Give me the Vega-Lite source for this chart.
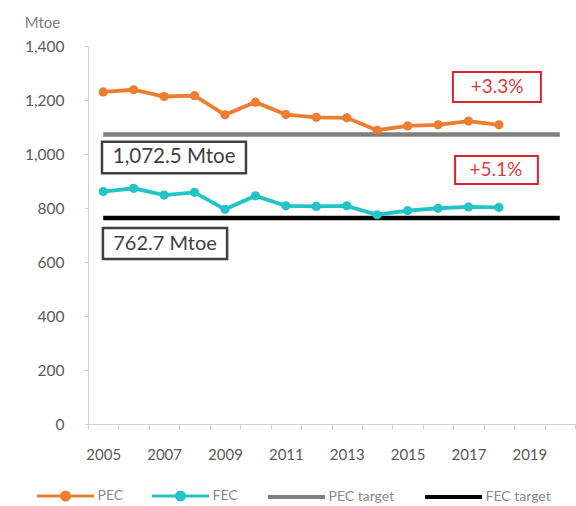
{
  "$schema": "https://vega.github.io/schema/vega-lite/v6.json",
  "autosize": {"type": "none"},
  "padding": {"left": 88, "top": 46, "right": 1, "bottom": 82},
  "width": 487,
  "height": 378,
  "background": "white",
  "config": {
    "view": {"stroke": null},
    "font": "Lato",
    "axis": {"grid": false, "labelFont": "Lato", "titleFont": "Lato"}
  },
  "resolve": {"axis": {"x": "independent"}},
  "data": {
    "values": [
      {"year": 2005, "series": "PEC", "value": 1230},
      {"year": 2006, "series": "PEC", "value": 1238},
      {"year": 2007, "series": "PEC", "value": 1213},
      {"year": 2008, "series": "PEC", "value": 1216},
      {"year": 2009, "series": "PEC", "value": 1145},
      {"year": 2010, "series": "PEC", "value": 1192},
      {"year": 2011, "series": "PEC", "value": 1146},
      {"year": 2012, "series": "PEC", "value": 1136},
      {"year": 2013, "series": "PEC", "value": 1134},
      {"year": 2014, "series": "PEC", "value": 1088},
      {"year": 2015, "series": "PEC", "value": 1104},
      {"year": 2016, "series": "PEC", "value": 1108},
      {"year": 2017, "series": "PEC", "value": 1122},
      {"year": 2018, "series": "PEC", "value": 1108},
      {"year": 2005, "series": "FEC", "value": 861},
      {"year": 2006, "series": "FEC", "value": 873},
      {"year": 2007, "series": "FEC", "value": 848},
      {"year": 2008, "series": "FEC", "value": 858},
      {"year": 2009, "series": "FEC", "value": 795},
      {"year": 2010, "series": "FEC", "value": 845},
      {"year": 2011, "series": "FEC", "value": 808},
      {"year": 2012, "series": "FEC", "value": 806},
      {"year": 2013, "series": "FEC", "value": 808},
      {"year": 2014, "series": "FEC", "value": 775},
      {"year": 2015, "series": "FEC", "value": 790},
      {"year": 2016, "series": "FEC", "value": 799},
      {"year": 2017, "series": "FEC", "value": 804},
      {"year": 2018, "series": "FEC", "value": 802},
      {"year": 2005, "series": "PEC target", "value": 1072.5},
      {"year": 2020, "series": "PEC target", "value": 1072.5},
      {"year": 2005, "series": "FEC target", "value": 762.7},
      {"year": 2020, "series": "FEC target", "value": 762.7}
    ]
  },
  "layer": [
    {
      "transform": [{"filter": "indexof(['PEC target','FEC target'], datum.series) >= 0"}],
      "mark": {"type": "line", "strokeWidth": 4.5},
      "encoding": {
        "x": {
          "field": "year", "type": "quantitative",
          "scale": {"domain": [2004.5, 2020.5], "nice": false, "zero": false},
          "axis": {
            "orient": "bottom",
            "title": null,
            "values": [2004.5, 2005.5, 2006.5, 2007.5, 2008.5, 2009.5, 2010.5, 2011.5, 2012.5, 2013.5, 2014.5, 2015.5, 2016.5, 2017.5, 2018.5, 2019.5, 2020.5],
            "labels": false,
            "tickSize": 5,
            "tickColor": "#D0D0D0",
            "domainColor": "#D0D0D0"
          }
        },
        "y": {
          "field": "value", "type": "quantitative",
          "scale": {"domain": [0, 1400], "nice": false},
          "axis": {
            "values": [0, 200, 400, 600, 800, 1000, 1200, 1400],
            "format": ",d",
            "title": "Mtoe",
            "titleAngle": 0,
            "titleX": -46,
            "titleY": -24,
            "titleAlign": "center",
            "titleBaseline": "middle",
            "titleFontWeight": "normal",
            "titleFontSize": 15,
            "titleColor": "#7F7F7F",
            "labelFontSize": 15.5,
            "labelColor": "#595959",
            "labelPadding": 20,
            "tickSize": 4,
            "tickColor": "#D0D0D0",
            "domainColor": "#D0D0D0"
          }
        },
        "color": {
          "field": "series", "type": "nominal",
          "scale": {"domain": ["PEC", "FEC", "PEC target", "FEC target"], "range": ["#ED7D31", "#22C4C6", "#7F7F7F", "#000000"]},
          "legend": {
            "title": null,
            "orient": "none",
            "direction": "horizontal",
            "legendX": -53,
            "legendY": 443,
            "symbolSize": 100,
            "symbolOffset": 23.5,
            "labelOffset": 25,
            "columnPadding": 22,
            "labelFontSize": 14,
            "labelColor": "#8A8A8A",
            "encode": {
              "symbols": {
                "update": {
                  "shape": {"signal": "indexof(['PEC','FEC'], datum.value) >= 0 ? 'M-5.7,0H5.7M-0.8,0A0.8,0.8,0,1,1,0.8,0A0.8,0.8,0,1,1,-0.8,0Z' : 'M-5.7,0H5.7'"},
                  "strokeWidth": {"signal": "indexof(['PEC','FEC'], datum.value) >= 0 ? 3 : 4"},
                  "fill": {"scale": "color", "field": "value"},
                  "fillOpacity": {"value": 1}
                }
              }
            }
          }
        }
      }
    },
    {
      "data": {"values": [{}]},
      "mark": {"type": "rect", "fill": "white", "stroke": "#404040", "strokeWidth": 2.5},
      "encoding": {
        "x": {"datum": 2004.96, "type": "quantitative", "axis": null},
        "x2": {"datum": 2009.69},
        "y": {"datum": 1045.6, "type": "quantitative"},
        "y2": {"datum": 928.5}
      }
    },
    {
      "data": {"values": [{}]},
      "mark": {"type": "rect", "fill": "white", "stroke": "#404040", "strokeWidth": 2.5},
      "encoding": {
        "x": {"datum": 2004.99, "type": "quantitative", "axis": null},
        "x2": {"datum": 2009.07},
        "y": {"datum": 726, "type": "quantitative"},
        "y2": {"datum": 611}
      }
    },
    {
      "data": {"values": [{}]},
      "mark": {"type": "rect", "fill": "white", "stroke": "#D9262E", "strokeWidth": 2},
      "encoding": {
        "x": {"datum": 2016.49, "type": "quantitative", "axis": null},
        "x2": {"datum": 2019.38},
        "y": {"datum": 1304, "type": "quantitative"},
        "y2": {"datum": 1193}
      }
    },
    {
      "data": {"values": [{}]},
      "mark": {"type": "rect", "fill": "white", "stroke": "#D9262E", "strokeWidth": 2},
      "encoding": {
        "x": {"datum": 2016.56, "type": "quantitative", "axis": null},
        "x2": {"datum": 2019.28},
        "y": {"datum": 993, "type": "quantitative"},
        "y2": {"datum": 889}
      }
    },
    {
      "transform": [{"filter": "indexof(['PEC','FEC'], datum.series) >= 0"}],
      "mark": {"type": "line", "strokeWidth": 3.8, "point": {"filled": true, "size": 85}},
      "encoding": {
        "x": {
          "field": "year", "type": "quantitative",
          "axis": {
            "orient": "bottom",
            "title": null,
            "values": [2005, 2007, 2009, 2011, 2013, 2015, 2017, 2019],
            "format": "d",
            "labelOverlap": false,
            "labelFlush": false,
            "labelFontSize": 15,
            "labelColor": "#595959",
            "labelPadding": 23,
            "ticks": false,
            "domain": false
          }
        },
        "y": {"field": "value", "type": "quantitative"},
        "color": {"field": "series", "type": "nominal"}
      }
    },
    {
      "data": {"values": [{}]},
      "mark": {"type": "text", "text": "1,072.5 Mtoe", "fontSize": 20.5, "color": "#404040", "align": "center", "baseline": "middle"},
      "encoding": {
        "x": {"datum": 2007.33, "type": "quantitative", "axis": null},
        "y": {"datum": 989, "type": "quantitative"}
      }
    },
    {
      "data": {"values": [{}]},
      "mark": {"type": "text", "text": "762.7 Mtoe", "fontSize": 20, "color": "#404040", "align": "center", "baseline": "middle"},
      "encoding": {
        "x": {"datum": 2007.03, "type": "quantitative", "axis": null},
        "y": {"datum": 668, "type": "quantitative"}
      }
    },
    {
      "data": {"values": [{}]},
      "mark": {"type": "text", "text": "+3.3%", "fontSize": 19, "color": "#E0393E", "align": "center", "baseline": "middle"},
      "encoding": {
        "x": {"datum": 2017.94, "type": "quantitative", "axis": null},
        "y": {"datum": 1248, "type": "quantitative"}
      }
    },
    {
      "data": {"values": [{}]},
      "mark": {"type": "text", "text": "+5.1%", "fontSize": 19, "color": "#E0393E", "align": "center", "baseline": "middle"},
      "encoding": {
        "x": {"datum": 2017.9, "type": "quantitative", "axis": null},
        "y": {"datum": 941, "type": "quantitative"}
      }
    }
  ]
}
